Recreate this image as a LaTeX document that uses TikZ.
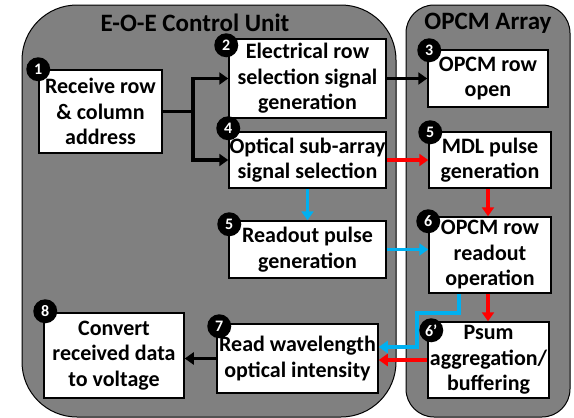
\documentclass[tikz,border=0pt]{standalone}
\usepackage{fontspec}
\setmainfont{Carlito}
\usepackage{tikz}
\usetikzlibrary{positioning, arrows.meta, calc}
\definecolor{unitgray}{HTML}{808080}
\definecolor{optblue}{HTML}{00B0F0}
\definecolor{optred}{HTML}{FF0000}
\tikzset{
    unitbox/.style={draw, line width=1pt, fill=unitgray, inner sep=0pt},
    unittitle/.style={font=\bfseries\fontsize{25}{28}\selectfont, inner sep=0pt},
    stepbox/.style={draw, line width=1.5pt, fill=white, align=center, inner sep=0pt, font=\bfseries\fontsize{22}{25.5}\selectfont},
    badge/.style={circle, fill=black, text=white, minimum size=24pt, inner sep=0pt, font=\bfseries\fontsize{16}{16}\selectfont},
    flowarrow/.style={-{Triangle[length=9pt, width=12pt]}, line width=3.5pt},
    elecarrow/.style={flowarrow, black},
    bluearrow/.style={flowarrow, optblue},
    redarrow/.style={flowarrow, optred},
}

\begin{document}
\begin{tikzpicture}[x=1pt, y=-1pt]
        \useasboundingbox (0,0) rectangle (574,418);
        % containers
        \node[unitbox, rounded corners=55pt, minimum width=374pt, minimum height=412pt] (eoe) at (209,211) {};
        \node[unitbox, rounded corners=28pt, minimum width=164pt, minimum height=412pt] (opcm) at (488,211) {};
        \node[unittitle] (eoetitle) at (195,23) {E-O-E Control Unit};
        \node[unittitle] (opcmtitle) at (488,23) {OPCM Array};
        % steps
        \node[stepbox, minimum width=123pt, minimum height=83pt] (recv) at (100.5,111.5) {Receive row\\ \& column\\ address};
        \node[stepbox, minimum width=157pt, minimum height=79pt] (elec) at (307.5,78.5) {Electrical row\\ selection signal\\ generation};
        \node[stepbox, minimum width=157pt, minimum height=56pt] (optsel) at (307.5,160) {Optical sub-array\\ signal selection};
        \node[stepbox, minimum width=157pt, minimum height=57pt] (rdpulse) at (307.5,249.5) {Readout pulse\\ generation};
        \node[stepbox, minimum width=161pt, minimum height=69pt] (wlread) at (297.5,358.5) {Read wavelength\\ optical intensity};
        \node[stepbox, minimum width=140pt, minimum height=85pt] (conv) at (114,355.5) {Convert\\ received data\\ to voltage};
        \node[stepbox, minimum width=120pt, minimum height=57pt] (rowopen) at (488,78.5) {OPCM row\\ open};
        \node[stepbox, minimum width=122pt, minimum height=56pt] (mdl) at (490,160) {MDL pulse\\ generation};
        \node[stepbox, minimum width=122pt, minimum height=76pt] (rowread) at (490,255) {OPCM row\\ readout\\ operation};
        \node[stepbox, minimum width=121pt, minimum height=76pt] (psum) at (488.5,360) {Psum\\ aggregation/\\ buffering};
        % connectors
        \draw[line width=3.5pt] (recv.east) -- (193,111.5) coordinate (split);
        \draw[elecarrow] (split) |- (elec.west);
        \draw[elecarrow] (split) |- (optsel.west);
        \draw[elecarrow] (elec.east) -- (rowopen.west);
        \draw[redarrow] (optsel.east) -- (mdl.west);
        \draw[bluearrow] (optsel.south) -- (rdpulse.north);
        \draw[bluearrow] (rdpulse.east) -- (rdpulse.east -| rowread.west);
        \draw[redarrow] ([xshift=-2pt]mdl.south) -- ([xshift=-2pt]mdl.south |- rowread.north);
        \draw[redarrow] ([xshift=-2pt]rowread.south) -- ([xshift=-2pt]rowread.south |- psum.north);
        \draw[bluearrow] ([xshift=-31pt]rowread.south) |- (417,313) |- ([yshift=11.5pt]wlread.east);
        \draw[redarrow] (psum.west) -- (psum.west -| wlread.east);
        \draw[elecarrow] (wlread.west) -- (wlread.west -| conv.east);
        % step numbers
        \node[badge] (n1) at ([shift={(0pt,0pt)}]recv.north west) {1};
        \node[badge] (n2) at ([shift={(-2pt,-7pt)}]elec.north west) {2};
        \node[badge] (n3) at ([shift={(2pt,-1pt)}]rowopen.north west) {3};
        \node[badge] (n4) at ([shift={(0pt,3pt)}]optsel.north west) {4};
        \node[badge] (n5a) at ([shift={(2pt,-1pt)}]mdl.north west) {5};
        \node[badge] (n5b) at ([shift={(1pt,-4pt)}]rdpulse.north west) {5};
        \node[badge] (n6) at ([shift={(0pt,-5pt)}]rowread.north west) {6};
        \node[badge] (n6b) at ([shift={(4pt,-9pt)}]psum.north west) {6’};
        \node[badge] (n7) at ([shift={(3pt,-3pt)}]wlread.north west) {7};
        \node[badge] (n8) at ([shift={(2pt,1pt)}]conv.north west) {8};
    \end{tikzpicture}
\end{document}
